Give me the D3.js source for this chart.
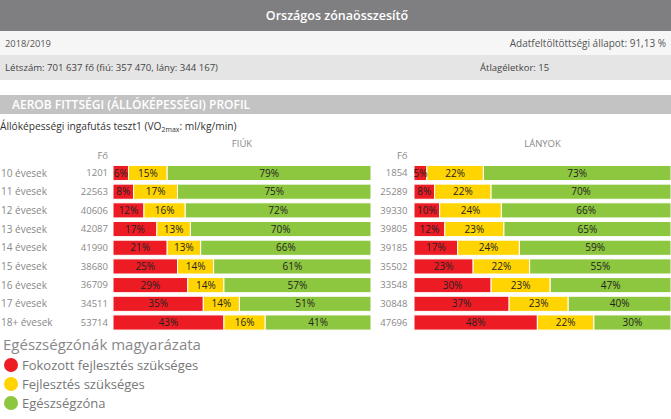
<!DOCTYPE html>
<html><head><meta charset="utf-8">
<script src="https://cdn.jsdelivr.net/npm/d3@7"></script>
<style>
html,body{margin:0;padding:0;background:#fff;}
svg{display:block;font-family:"Open Sans",sans-serif;}
</style></head>
<body>
<svg id="c" width="671" height="419"></svg>
<script>
const ageGroups = ["10 évesek","11 évesek","12 évesek","13 évesek","14 évesek","15 évesek","16 évesek","17 évesek","18+ évesek"];
const boysCount = [1201,22563,40606,42087,41990,38680,36709,34511,53714];
const boysRed = [6,8,12,17,21,25,29,35,43];
const boysYellow = [15,17,16,13,13,14,14,14,16];
const boysGreen = [79,75,72,70,66,61,57,51,41];
const girlsCount = [1854,25289,39330,39805,39185,35502,33548,30848,47696];
const girlsRed = [5,8,10,12,17,23,30,37,48];
const girlsYellow = [22,22,24,23,24,22,23,23,22];
const girlsGreen = [73,70,66,65,59,55,47,40,30];
const zoneNames = ["Fokozott fejlesztés szükséges","Fejlesztés szükséges","Egészségzóna"];
const zoneColors = ["#ed1c24","#ffd400","#8dc63f"];

const svg = d3.select("#c");

// header rows
svg.append("rect").attr("x",0).attr("y",0).attr("width",671).attr("height",31).attr("fill","#7f7f82");
svg.append("text").attr("x",337).attr("y",20).attr("text-anchor","middle").attr("fill","#fff")
  .attr("font-size",12.5).attr("font-weight",600).text("Országos zónaösszesítő");
svg.append("rect").attr("x",0).attr("y",31).attr("width",671).attr("height",24).attr("fill","#f6f6f6");
svg.append("text").attr("x",5).attr("y",47).attr("fill","#555").attr("font-size",9.3).text("2018/2019");
svg.append("text").attr("x",666).attr("y",47).attr("text-anchor","end").attr("fill","#555").attr("font-size",10).text("Adatfeltöltöttségi állapot: 91,13 %");
svg.append("rect").attr("x",0).attr("y",55).attr("width",671).attr("height",25).attr("fill","#e5e5e5");
svg.append("text").attr("x",5).attr("y",71).attr("fill","#444").attr("font-size",9.6).text("Létszám: 701 637 fő (fiú: 357 470, lány: 344 167)");
svg.append("text").attr("x",480).attr("y",71).attr("fill","#444").attr("font-size",9.5).text("Átlagéletkor: 15");
svg.append("rect").attr("x",0).attr("y",95).attr("width",671).attr("height",19).attr("fill","#c3c3c3");
svg.append("text").attr("x",12).attr("y",109).attr("fill","#fff").attr("font-size",12).attr("font-weight",600).text("AEROB FITTSÉGI (ÁLLÓKÉPESSÉGI) PROFIL");
const sub = svg.append("text").attr("x",0).attr("y",130).attr("fill","#333").attr("font-size",10.2);
sub.append("tspan").text("Állóképességi ingafutás teszt1 (VO");
sub.append("tspan").attr("font-size",7).attr("dy",2).text("2max");
sub.append("tspan").attr("dy",-2).text(": ml/kg/min)");

const y = d3.scaleBand().domain(ageGroups).range([164.5,331]).paddingInner(0.19).paddingOuter(0.05);

// row labels
svg.append("g").selectAll("text").data(ageGroups).join("text")
  .attr("x",1).attr("y",d=>y(d)+y.bandwidth()/2).attr("dy","0.35em")
  .attr("fill","#888").attr("font-size",10).text(d=>d);

function panel(x0,x1,title,counts,reds,yellows,greens,countX){
  const x = d3.scaleLinear().domain([0,100]).range([x0,x1]);
  svg.append("text").attr("x",(x0+x1)/2).attr("y",147).attr("text-anchor","middle")
    .attr("fill","#888").attr("font-size",9.5).text(title);
  svg.append("text").attr("x",countX).attr("y",159).attr("text-anchor","end")
    .attr("fill","#888").attr("font-size",9.5).text("Fő");
  svg.append("g").selectAll("text").data(counts).join("text")
    .attr("x",countX).attr("y",(d,i)=>y(ageGroups[i])+y.bandwidth()/2).attr("dy","0.35em")
    .attr("text-anchor","end").attr("fill","#888").attr("font-size",9.5).text(d=>d);
  const rows = ageGroups.map((g,i)=>{
    const vals=[reds[i],yellows[i],greens[i]];
    let c=0;
    return vals.map((v,k)=>{const s={g,k,v,start:c}; c+=v; return s;});
  }).flat();
  const gg = svg.append("g");
  gg.selectAll("rect").data(rows).join("rect")
    .attr("x",d=>x(d.start)).attr("y",d=>y(d.g))
    .attr("width",d=>x(d.start+d.v)-x(d.start)).attr("height",y.bandwidth())
    .attr("fill",d=>zoneColors[d.k]).attr("stroke","#fff").attr("stroke-width",1);
  gg.selectAll("text").data(rows).join("text")
    .attr("x",d=>(x(d.start)+x(d.start+d.v))/2).attr("y",d=>y(d.g)+y.bandwidth()/2).attr("dy","0.36em")
    .attr("text-anchor","middle").attr("fill","#222").attr("font-size",10).text(d=>d.v+"%");
}
panel(113,371,"FIÚK",boysCount,boysRed,boysYellow,boysGreen,108);
panel(414,671,"LÁNYOK",girlsCount,girlsRed,girlsYellow,girlsGreen,407.5);

// legend
svg.append("text").attr("x",3).attr("y",350).attr("fill","#888").attr("font-size",15).text("Egészségzónák magyarázata");
const lg = svg.append("g").selectAll("g").data(zoneNames).join("g")
  .attr("transform",(d,i)=>`translate(0,${365+i*19})`);
lg.append("circle").attr("cx",11).attr("cy",0).attr("r",7).attr("fill",(d,i)=>zoneColors[i]);
lg.append("text").attr("x",22).attr("y",0).attr("dy","0.35em").attr("fill","#777").attr("font-size",13).text(d=>d);
</script>
</body></html>
